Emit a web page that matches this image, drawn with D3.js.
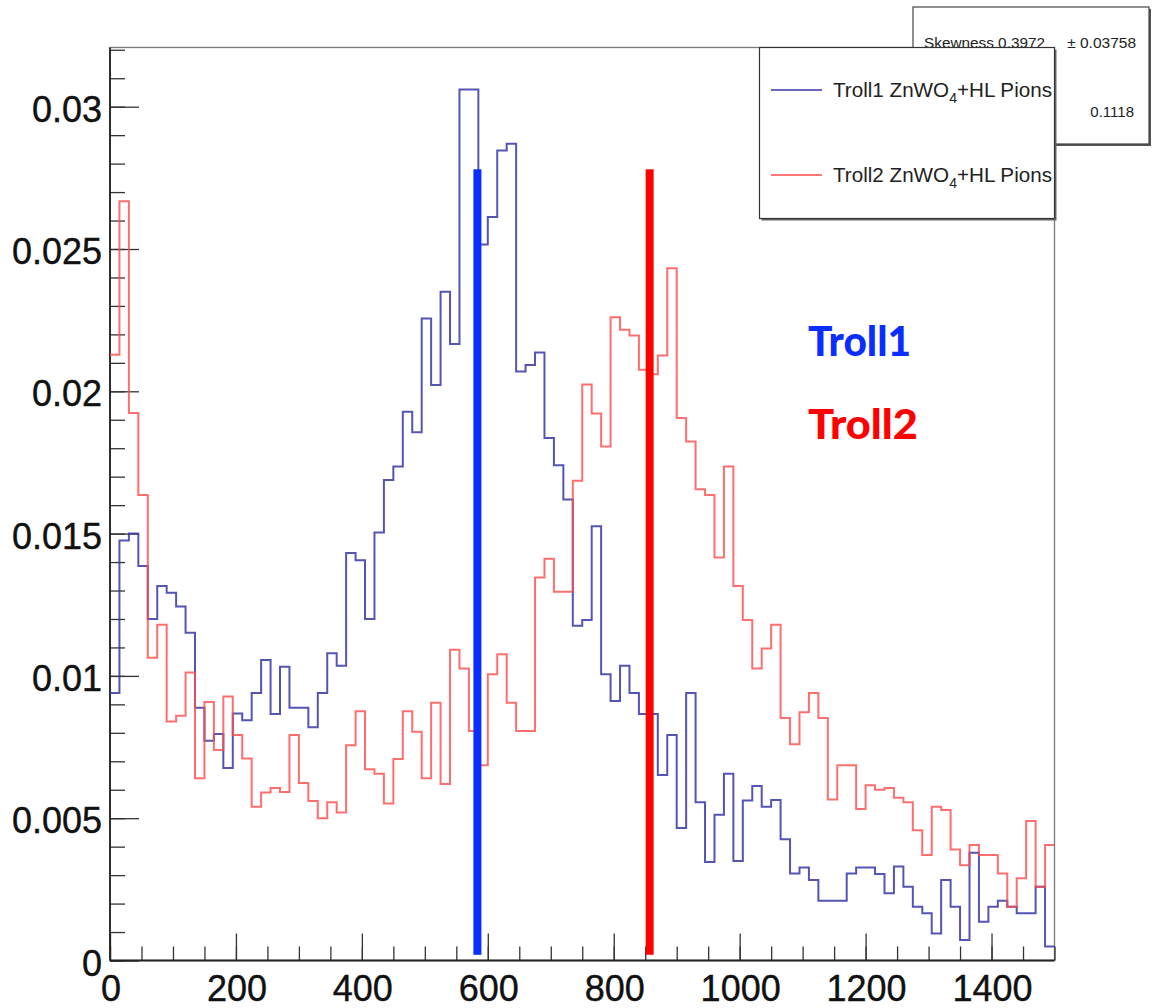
<!DOCTYPE html>
<html>
<head>
<meta charset="utf-8">
<script src="https://cdn.jsdelivr.net/npm/d3@7"></script>
<style>
  html, body { margin: 0; padding: 0; background: #fff; }
  svg { display: block; }
</style>
</head>
<body>
<svg id="chart" width="1153" height="1008"></svg>
<script>
// ---- Histogram data: 100 bins of width 15 over [0, 1500), normalised ----
const binStart = 0;
const binWidth = 15;

const troll1 = [
  0.0094, 0.01476, 0.0150, 0.01386, 0.0120, 0.01316, 0.01292, 0.01244, 0.01152, 0.00888,
  0.00772, 0.00796, 0.00676, 0.00868, 0.00844, 0.0094, 0.01056, 0.00866, 0.01032, 0.00888,
  0.00888, 0.0082, 0.0094, 0.0108, 0.01036, 0.01432, 0.01406, 0.0120, 0.01504, 0.01688,
  0.01736, 0.01928, 0.01856, 0.02256, 0.02022, 0.0235, 0.02166, 0.0306, 0.0306, 0.02516,
  0.02612, 0.02846, 0.0287, 0.0207, 0.02092, 0.02136, 0.01836, 0.0174, 0.0162, 0.01176,
  0.01196, 0.01526, 0.01006, 0.00912, 0.01036, 0.0094, 0.00866, 0.00866, 0.00652, 0.00792,
  0.00466, 0.0094, 0.00556, 0.00346, 0.00512, 0.00656, 0.0035, 0.00562, 0.00613, 0.0054,
  0.00564, 0.00426, 0.00306, 0.00327, 0.00283, 0.0021, 0.0021, 0.0021, 0.00306, 0.00327,
  0.00327, 0.00304, 0.00236, 0.0033, 0.00259, 0.00189, 0.00166, 0.00095, 0.00283, 0.00189,
  0.00072, 0.00379, 0.00136, 0.00189, 0.0021, 0.00189, 0.00166, 0.00166, 0.00259, 0.00049
];

const troll2 = [
  0.02128, 0.02668, 0.01924, 0.01636, 0.01064, 0.0118, 0.0084, 0.0086, 0.01012, 0.0064,
  0.00908, 0.0074, 0.00928, 0.00792, 0.0071, 0.0054, 0.0059, 0.00606, 0.00592, 0.00792,
  0.00624, 0.0056, 0.0050, 0.00556, 0.0052, 0.00756, 0.00876, 0.00672, 0.00656, 0.00552,
  0.00708, 0.00876, 0.00804, 0.0064, 0.00906, 0.0062, 0.01092, 0.01026, 0.00806, 0.00686,
  0.01006, 0.01076, 0.00906, 0.00806, 0.00806, 0.01346, 0.01412, 0.01296, 0.01296, 0.01686,
  0.02024, 0.01922, 0.01806, 0.0226, 0.02216, 0.02196, 0.02076, 0.0206, 0.02126, 0.02432,
  0.01906, 0.01824, 0.01656, 0.01636, 0.01416, 0.01736, 0.01316, 0.01196, 0.01026, 0.01096,
  0.0118, 0.00852, 0.0076, 0.00872, 0.0094, 0.00852, 0.00566, 0.00686, 0.00686, 0.00532,
  0.00616, 0.006, 0.00606, 0.00572, 0.00556, 0.00458, 0.00371, 0.0054, 0.00529, 0.0039,
  0.00335, 0.00406, 0.00371, 0.00371, 0.00306, 0.00189, 0.00289, 0.0049, 0.00259, 0.00406
];

// Axis ticks
const xTicksMajor = [0, 200, 400, 600, 800, 1000, 1200, 1400];
const xTicksMinorStep = 50;
const yTicksMajor = [0, 0.005, 0.01, 0.015, 0.02, 0.025, 0.03];
const yTickLabels = ["0", "0.005", "0.01", "0.015", "0.02", "0.025", "0.03"];
const yTicksMinorStep = 0.001;

// Peak markers (positions along x) and their extent
const markerNames = ["Troll1", "Troll2"];
const markerPositions = [583.5, 857];
const markerTop = 0.0278;
const markerBottom = 0.0002;

// Legend entries: name + material with subscript
const legendPrefix = ["Troll1", "Troll2"];
const legendMaterial = ["ZnWO", "4", "+HL Pions"];

// Statistics box text
const statsSkewness = "Skewness 0.3972";
const statsSkewnessErr = "\u00b1 0.03758";
const statsExtra = "0.1118";

// ---- Layout ----
const frame = { left: 110, right: 1054.5, top: 47.5, bottom: 960.5 };
const xDomainMax = 1500;
const yDomainMax = 0.03208;

const colors = {
  troll1Line: "#3636a8",
  troll2Line: "#ff4a4a",
  troll1Mark: "#0a2eff",
  troll2Mark: "#ff0000",
  axis: "#222",
  tick: "#333"
};

const svg = d3.select("#chart");

const x = d3.scaleLinear().domain([0, xDomainMax]).range([frame.left, frame.right]);
const y = d3.scaleLinear().domain([0, yDomainMax]).range([frame.bottom, frame.top]);

// Frame (top and right borders in grey)
svg.append("rect")
  .attr("x", frame.left).attr("y", frame.top)
  .attr("width", frame.right - frame.left).attr("height", frame.bottom - frame.top)
  .attr("fill", "none").attr("stroke", "#7a7a7a").attr("stroke-width", 1.3);

// Y axis minor + major ticks
const yMinor = d3.range(0, yDomainMax + 1e-9, yTicksMinorStep);
const yAxisMinor = d3.axisRight(y).tickValues(yMinor).tickSize(15).tickFormat("");
const yAxisMajor = d3.axisRight(y).tickValues(yTicksMajor).tickSize(29).tickFormat("");
[yAxisMinor, yAxisMajor].forEach(ax => {
  const g = svg.append("g").attr("transform", `translate(${frame.left},0)`).call(ax);
  g.select(".domain").remove();
  g.selectAll("line").attr("stroke", colors.tick).attr("stroke-width", 1.3);
});

// X axis minor + major ticks (pointing up into the frame)
const xMinor = d3.range(0, xDomainMax + 1e-9, xTicksMinorStep);
const xAxisMinor = d3.axisTop(x).tickValues(xMinor).tickSize(14).tickFormat("");
const xAxisMajor = d3.axisTop(x).tickValues(xTicksMajor).tickSize(27).tickFormat("");
[xAxisMinor, xAxisMajor].forEach(ax => {
  const g = svg.append("g").attr("transform", `translate(0,${frame.bottom})`).call(ax);
  g.select(".domain").remove();
  g.selectAll("line").attr("stroke", colors.tick).attr("stroke-width", 1.3);
});

// Axis lines
svg.append("line")
  .attr("x1", frame.left).attr("x2", frame.left)
  .attr("y1", frame.top).attr("y2", frame.bottom)
  .attr("stroke", colors.axis).attr("stroke-width", 1.8);
svg.append("line")
  .attr("x1", frame.left).attr("x2", frame.right)
  .attr("y1", frame.bottom).attr("y2", frame.bottom)
  .attr("stroke", colors.axis).attr("stroke-width", 1.8);

// Tick labels
const labelFont = "'Liberation Sans', Arial, Helvetica, sans-serif";
svg.append("g").selectAll("text")
  .data(yTicksMajor)
  .join("text")
  .attr("x", 102)
  .attr("y", d => y(d) + 15)
  .attr("text-anchor", "end")
  .attr("font-family", labelFont)
  .attr("font-size", 36)
  .attr("fill", "#111")
  .attr("stroke", "#111").attr("stroke-width", 0.4)
  .text((d, i) => yTickLabels[i]);

svg.append("g").selectAll("text")
  .data(xTicksMajor)
  .join("text")
  .attr("x", d => x(d) + 1)
  .attr("y", frame.bottom + 40.5)
  .attr("text-anchor", "middle")
  .attr("font-family", labelFont)
  .attr("font-size", 36)
  .attr("fill", "#111")
  .attr("stroke", "#111").attr("stroke-width", 0.4)
  .text(d => String(d));

// Histogram outlines
function stepPoints(values) {
  const pts = values.map((v, i) => [binStart + i * binWidth, v]);
  pts.push([binStart + values.length * binWidth, values[values.length - 1]]);
  return pts;
}
const histLine = d3.line()
  .x(d => x(d[0]))
  .y(d => y(d[1]))
  .curve(d3.curveStepAfter);

svg.append("path")
  .datum(stepPoints(troll1))
  .attr("d", histLine)
  .attr("fill", "none")
  .attr("stroke", colors.troll1Line)
  .attr("stroke-opacity", 0.85)
  .attr("stroke-width", 2);

svg.append("path")
  .datum(stepPoints(troll2))
  .attr("d", histLine)
  .attr("fill", "none")
  .attr("stroke", colors.troll2Line)
  .attr("stroke-opacity", 0.8)
  .attr("stroke-width", 2);

// Thick vertical markers
svg.append("g").selectAll("rect")
  .data(markerPositions)
  .join("rect")
  .attr("x", d => x(d) - 4)
  .attr("width", 8)
  .attr("y", y(markerTop))
  .attr("height", y(markerBottom) - y(markerTop))
  .attr("fill", (d, i) => i === 0 ? colors.troll1Mark : colors.troll2Mark);

// Marker captions
const captionFont = "Lato, 'Open Sans', 'DejaVu Sans', sans-serif";
const captionY = [356, 439];
const captionWidth = [103, 110];
svg.append("g").selectAll("text")
  .data(markerNames)
  .join("text")
  .attr("x", 808)
  .attr("y", (d, i) => captionY[i])
  .attr("font-family", captionFont)
  .attr("font-weight", 900)
  .attr("font-size", 41)
  .attr("textLength", (d, i) => captionWidth[i])
  .attr("lengthAdjust", "spacingAndGlyphs")
  .attr("fill", (d, i) => i === 0 ? colors.troll1Mark : colors.troll2Mark)
  .text(d => d);

// Statistics box (partly hidden behind the legend)
const stats = svg.append("g");
stats.append("rect")
  .attr("x", 915).attr("y", 9).attr("width", 236).attr("height", 137)
  .attr("fill", "#555");
stats.append("rect")
  .attr("x", 913).attr("y", 7).attr("width", 236).attr("height", 137)
  .attr("fill", "#fff").attr("stroke", "#444").attr("stroke-width", 1.2);
stats.append("text")
  .attr("x", 924).attr("y", 48)
  .attr("font-family", labelFont).attr("font-size", 14.5).attr("fill", "#222")
  .attr("textLength", 121).attr("lengthAdjust", "spacingAndGlyphs")
  .text(statsSkewness);
stats.append("text")
  .attr("x", 1136).attr("y", 48)
  .attr("text-anchor", "end")
  .attr("font-family", labelFont).attr("font-size", 15.5).attr("fill", "#222")
  .text(statsSkewnessErr);
stats.append("text")
  .attr("x", 1134).attr("y", 117)
  .attr("text-anchor", "end")
  .attr("font-family", labelFont).attr("font-size", 15).attr("fill", "#222")
  .text(statsExtra);

// Legend box
const legend = svg.append("g");
legend.append("rect")
  .attr("x", 761.5).attr("y", 49.5).attr("width", 295).attr("height", 171)
  .attr("fill", "#666");
legend.append("rect")
  .attr("x", 759.5).attr("y", 47.5).attr("width", 295).attr("height", 171)
  .attr("fill", "#fff").attr("stroke", "#333").attr("stroke-width", 1.2);

const legendRows = [90, 175];
const legendColors = [colors.troll1Line, colors.troll2Line];
legendPrefix.forEach((name, i) => {
  legend.append("line")
    .attr("x1", 771).attr("x2", 822)
    .attr("y1", legendRows[i]).attr("y2", legendRows[i])
    .attr("stroke", legendColors[i]).attr("stroke-width", 1.3);
  const t = legend.append("text")
    .attr("x", 833).attr("y", legendRows[i] + 7)
    .attr("font-family", labelFont).attr("font-size", 20.5).attr("fill", "#222")
    .attr("textLength", 219).attr("lengthAdjust", "spacingAndGlyphs");
  t.append("tspan").text(name + " " + legendMaterial[0]);
  t.append("tspan").attr("font-size", 14).attr("dy", 6).text(legendMaterial[1]);
  t.append("tspan").attr("dy", -6).text(legendMaterial[2]);
});
</script>
</body>
</html>
